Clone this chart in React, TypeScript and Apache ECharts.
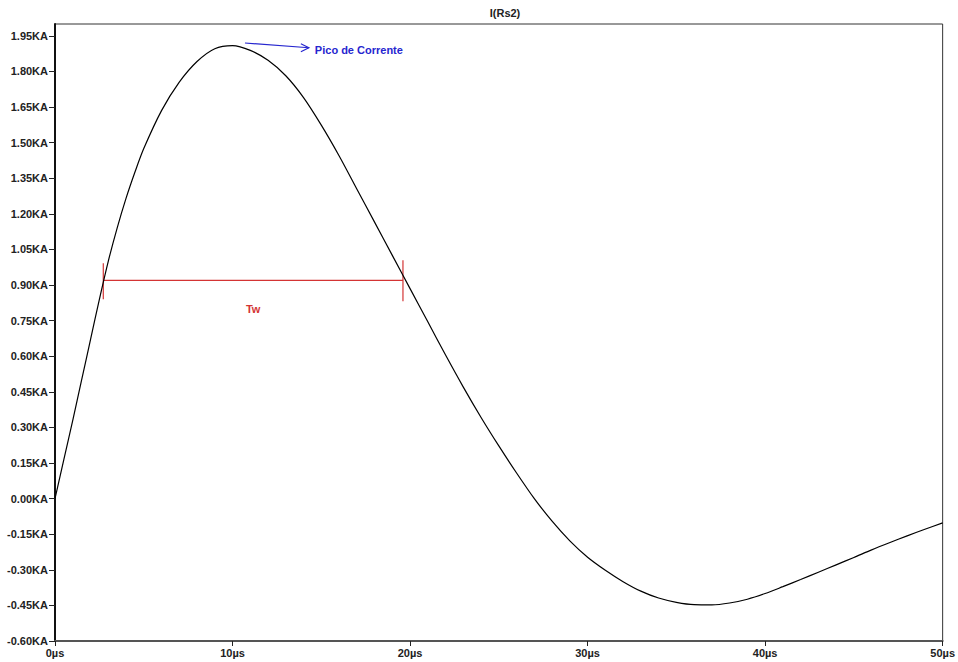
import React, { useEffect, useRef } from 'react';
import * as echarts from 'echarts';

// time axis (µs) and current (KA)
const timeUs = [0, 0.5, 1, 1.5, 2, 2.5, 3, 3.5, 4, 4.5, 5, 6, 7, 8, 9, 10, 11, 12, 13, 14, 15, 16, 17, 18, 19, 20, 21, 22, 23, 24, 25, 26, 27, 28, 29, 30, 31, 32, 33, 34, 35, 36, 37, 38, 39, 40, 41, 42, 43, 44, 45, 46, 47, 48, 49, 50];
const currentKA = [0, 0.165, 0.33, 0.5, 0.67, 0.84, 1.0, 1.14, 1.265, 1.375, 1.475, 1.635, 1.755, 1.842, 1.896, 1.909, 1.889, 1.847, 1.782, 1.69, 1.574, 1.445, 1.305, 1.165, 1.025, 0.885, 0.745, 0.605, 0.47, 0.342, 0.222, 0.108, 0.0, -0.095, -0.178, -0.247, -0.302, -0.35, -0.39, -0.419, -0.437, -0.447, -0.448, -0.44, -0.424, -0.4, -0.371, -0.341, -0.31, -0.279, -0.248, -0.216, -0.186, -0.157, -0.129, -0.102];

const yMin = -0.6;
const yMax = 2.0;
const yStep = 0.15;
const xMin = 0;
const xMax = 50;
const xStep = 10;

// annotations (data coordinates)
const peakArrowFrom = [10.7, 1.92];
const peakArrowTo = [14.3, 1.9];
const peakLabel = 'Pico de Corrente';
const twStart = 2.72;
const twEnd = 19.6;
const twLevel = 0.92;
const twLabel = 'Tw';

const FONT = '"Liberation Sans", Arial, sans-serif';
const RED = '#d43434';
const BLUE = '#2626cf';

export default function App() {
  const ref = useRef<HTMLDivElement>(null);
  useEffect(() => {
    if (!ref.current) return;
    const chart = echarts.init(ref.current, undefined, { renderer: 'svg' });
    const data = timeUs.map((t, i) => [t, currentKA[i]]);
    chart.setOption({
      animation: false,
      backgroundColor: '#ffffff',
      title: {
        text: 'I(Rs2)',
        left: 500,
        top: 2,
        textAlign: 'center',
        textStyle: { fontFamily: FONT, fontSize: 11, fontWeight: 'bold', color: '#222' },
      },
      grid: { left: 55, right: 13, top: 24, bottom: 21, show: true, borderColor: '#333', borderWidth: 1, backgroundColor: 'transparent' },
      xAxis: {
        type: 'value',
        min: xMin,
        max: xMax,
        interval: xStep,
        axisLine: { show: true, onZero: false, lineStyle: { color: '#555', width: 2 } },
        axisTick: { show: true, length: 5, lineStyle: { color: '#222' } },
        splitLine: { show: false },
        axisLabel: {
          margin: 6,
          fontFamily: FONT,
          fontSize: 11,
          fontWeight: 'bold',
          color: '#222',
          formatter: (v: number) => `${v}µs`,
        },
      },
      yAxis: {
        type: 'value',
        min: yMin,
        max: yMax,
        interval: yStep,
        axisLine: { show: true, onZero: false, lineStyle: { color: '#111', width: 2 } },
        axisTick: { show: true, length: 6, lineStyle: { color: '#222' } },
        splitLine: { show: false },
        axisLabel: {
          margin: 7,
          showMaxLabel: false,
          fontFamily: FONT,
          fontSize: 11,
          fontWeight: 'bold',
          color: '#222',
          formatter: (v: number) => (v > 1.96 ? '' : `${v.toFixed(2)}KA`),
        },
      },
      series: [
        {
          type: 'line',
          data,
          smooth: 0.3,
          showSymbol: false,
          lineStyle: { color: '#000', width: 1.2 },
        },
      ],
    });

    const px = (t: number, v: number) => chart.convertToPixel({ gridIndex: 0 }, [t, v]) as number[];
    const a0 = px(peakArrowFrom[0], peakArrowFrom[1]);
    const a1 = px(peakArrowTo[0], peakArrowTo[1]);
    const tw0 = px(twStart, twLevel);
    const tw1 = px(twEnd, twLevel);
    chart.setOption({
      graphic: [
        { type: 'line', shape: { x1: a0[0], y1: a0[1], x2: a1[0], y2: a1[1] }, style: { stroke: BLUE, lineWidth: 1.2 } },
        { type: 'polyline', shape: { points: [[a1[0] - 8, a1[1] - 4], [a1[0], a1[1]], [a1[0] - 8, a1[1] + 4]] }, style: { stroke: BLUE, lineWidth: 1.2, fill: 'none' } },
        { type: 'text', x: a1[0] + 6, y: a1[1] + 2, style: { text: peakLabel, fill: BLUE, font: `bold 11px ${FONT}`, verticalAlign: 'middle', align: 'left' } },
        { type: 'line', shape: { x1: tw0[0], y1: tw0[1], x2: tw1[0], y2: tw1[1] }, style: { stroke: RED, lineWidth: 1.2 } },
        { type: 'line', shape: { x1: tw0[0], y1: tw0[1] - 17, x2: tw0[0], y2: tw0[1] + 19 }, style: { stroke: RED, lineWidth: 1.2 } },
        { type: 'line', shape: { x1: tw1[0], y1: tw1[1] - 20, x2: tw1[0], y2: tw1[1] + 21 }, style: { stroke: RED, lineWidth: 1.2 } },
        { type: 'text', x: (tw0[0] + tw1[0]) / 2, y: tw0[1] + 29, style: { text: twLabel, fill: RED, font: `bold 11px ${FONT}`, align: 'center', verticalAlign: 'middle' } },
      ],
    });
    return () => chart.dispose();
  }, []);
  return <div ref={ref} style={{ position: 'fixed', left: 0, top: 0, width: 958, height: 662 }} />;
}
